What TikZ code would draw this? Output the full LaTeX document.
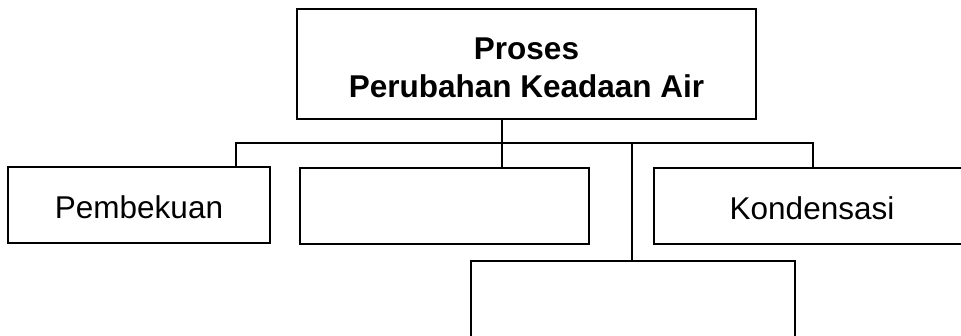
\documentclass[tikz,border=0pt]{standalone}
\usepackage{fontspec}
\setmainfont{Liberation Sans}
\begin{document}
\begin{tikzpicture}[x=1pt,y=-1pt,
  box/.style={draw=black,line width=2.6pt,rectangle,inner sep=0pt,anchor=center},
  link/.style={draw=black,line width=2.6pt},
  lbl/.style={font=\fontsize{31.5}{38}\selectfont,align=center}]
\clip (0,0) rectangle (961,335);
\fill[white] (0,0) rectangle (961,335);
\node[box,minimum width=459pt,minimum height=110pt] (top) at (526.5,64) {};
\node[lbl,font=\fontsize{31.5}{38}\selectfont\bfseries] (toptxt) at (526.5,68) {Proses\\Perubahan Keadaan Air};
\node[box,minimum width=262pt,minimum height=76pt] (p) at (139,205) {};
\node[lbl] (ptxt) at (139,207) {Pembekuan};
\node[box,minimum width=289pt,minimum height=76pt] (e1) at (444.5,206) {};
\node[box,minimum width=316pt,minimum height=76pt] (k) at (812,206) {};
\node[lbl] (ktxt) at (812,208) {Kondensasi};
\node[box,minimum width=324pt,minimum height=84pt] (e2) at (633,303) {};
\coordinate (bL) at (236,143);
\coordinate (bR) at (813,143);
\coordinate (bM) at (502,143);
\coordinate (bD) at (632,143);
\draw[link] (bL |- p.north) -- (bL) -- (bR) -- (bR |- k.north);
\draw[link] (top.south -| bM) -- (e1.north -| bM);
\draw[link] (bD) -- (e2.north -| bD);
\end{tikzpicture}
\end{document}
